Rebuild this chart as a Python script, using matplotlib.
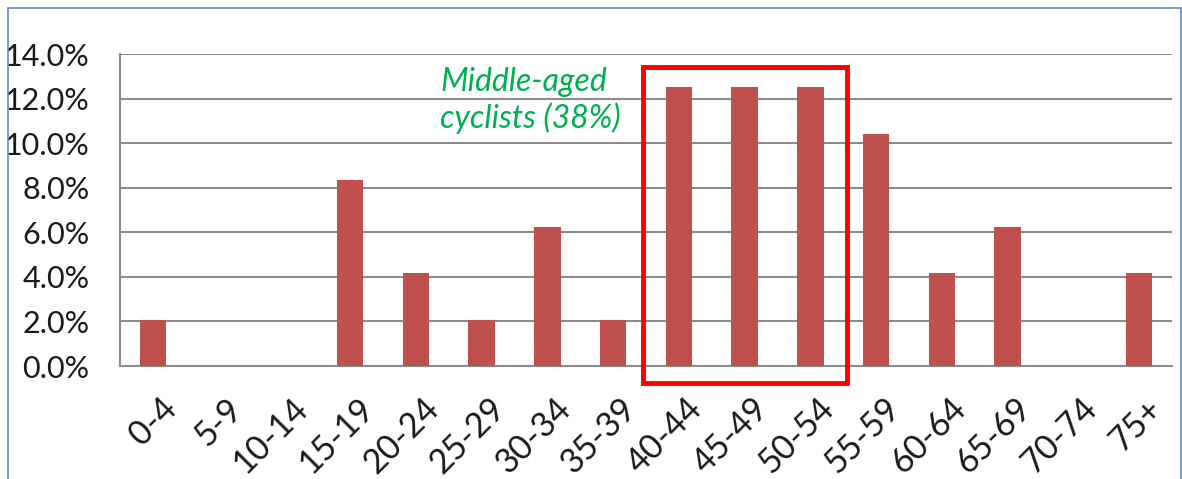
import matplotlib.pyplot as plt
import matplotlib.transforms as mtransforms
from matplotlib.patches import Rectangle
from matplotlib.ticker import PercentFormatter

plt.rcParams['font.family'] = ['Lato', 'DejaVu Sans']

# share of cyclists per age group (%)
age_groups = ['0-4', '5-9', '10-14', '15-19', '20-24', '25-29', '30-34', '35-39',
              '40-44', '45-49', '50-54', '55-59', '60-64', '65-69', '70-74', '75+']
share = [2.08, 0, 0, 8.33, 4.17, 2.08, 6.25, 2.08,
         12.5, 12.5, 12.5, 10.42, 4.17, 6.25, 0, 4.17]
highlight_groups = ['40-44', '45-49', '50-54']
note = 'Middle-aged\ncyclists (38%)'

fig = plt.figure(figsize=(11.82, 4.79), dpi=100)
ax = fig.add_axes([120 / 1182, 1 - 366 / 479, 1052 / 1182, 312 / 479])

x = range(len(age_groups))
ax.bar(x, share, width=0.4, color='#C0504D', zorder=3)

ax.set_xlim(-0.5, len(age_groups) - 0.5)
ax.set_ylim(0, 14)
ax.set_yticks([0, 2, 4, 6, 8, 10, 12, 14])
ax.yaxis.set_major_formatter(PercentFormatter(decimals=1))
ax.grid(axis='y', color='#8C8C8C', linewidth=1.5, zorder=0)

ax.set_xticks(list(x))
ax.set_xticklabels(age_groups, rotation=45, ha='right', va='top',
                   rotation_mode='anchor')
ax.tick_params(axis='x', length=0, pad=19, labelsize=24.5, labelcolor='#1A1A1A')
ax.tick_params(axis='y', length=0, pad=22, labelsize=22, labelcolor='#1A1A1A')

# nudge the slanted labels a little to the right
shift = mtransforms.ScaledTranslation(7 / 100, 0, fig.dpi_scale_trans)
for lbl in ax.get_xticklabels():
    lbl.set_transform(lbl.get_transform() + shift)

for side in ['top', 'right']:
    ax.spines[side].set_visible(False)
ax.spines['left'].set_color('#8C8C8C')
ax.spines['bottom'].set_color('#8C8C8C')
ax.spines['left'].set_linewidth(1.5)
ax.spines['bottom'].set_linewidth(1.5)

# box around the middle-aged groups
i0 = age_groups.index(highlight_groups[0])
i1 = age_groups.index(highlight_groups[-1])
ax.add_patch(Rectangle((i0 - 0.55, -0.76), (i1 - i0) + 1.1, 14.18,
                       fill=False, edgecolor='#FF0000', linewidth=3.5,
                       clip_on=False, zorder=4))

ax.text(4.37, 13.4, note, color='#00B050', style='italic', fontsize=23,
        ha='left', va='top', linespacing=1.2)

# light blue frame around the figure
fig.patches.append(Rectangle((8 / 1182, -0.1), 1173 / 1182, 1.1 - 8 / 479,
                             transform=fig.transFigure, fill=False,
                             edgecolor='#5B8BD0', linewidth=1.2))

fig.savefig('out.png', dpi=100)
